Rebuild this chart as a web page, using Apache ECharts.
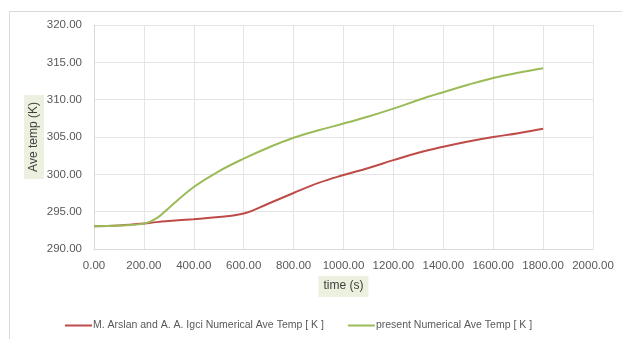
<!DOCTYPE html>
<html>
<head>
<meta charset="utf-8">
<style>
  html, body { margin: 0; padding: 0; background: #fff; }
  #chart { width: 622px; height: 339px; }
</style>
<script src="https://cdn.jsdelivr.net/npm/echarts@6/dist/echarts.min.js"></script>
</head>
<body>
<div id="chart"></div>
<script>
// time (s)
var times = [0, 100, 200, 250, 300, 400, 500, 600, 700, 800, 900, 1000, 1100, 1200, 1300, 1400, 1500, 1600, 1700, 1800]
// M. Arslan and A. A. Igci
var arslanTemp = [293.05, 293.15, 293.4, 293.6, 293.75, 294.0, 294.3, 294.75, 296.1, 297.5, 298.85, 299.9, 300.85, 301.9, 302.9, 303.7, 304.4, 305.0, 305.5, 306.1]
// present numerical
var presentTemp = [293.05, 293.15, 293.4, 294.1, 295.5, 298.3, 300.4, 302.1, 303.6, 304.9, 305.9, 306.8, 307.75, 308.8, 309.95, 311.0, 312.0, 312.9, 313.6, 314.2]
var seriesNames = ['M. Arslan and A. A. Igci Numerical Ave Temp [ K ]', 'present Numerical Ave Temp [ K ]']

function pairs(vals) {
  return times.map(function (t, i) { return [t, vals[i]] })
}

var font = 'Liberation Sans'
var chart = echarts.init(document.getElementById('chart'))
chart.setOption({
  backgroundColor: '#fff',
  animation: false,
  color: ['#be4b48', '#9bbb59'],
  graphic: [{
    type: 'rect',
    left: 7,
    top: 9,
    shape: { width: 700, height: 400 },
    style: { fill: 'none', stroke: '#d9d9d9', lineWidth: 1 },
    silent: true
  }],
  grid: {
    left: 94,
    right: 29,
    top: 25,
    bottom: 90
  },
  legend: {
    left: 60,
    top: 315,
    icon: 'rect',
    itemWidth: 27,
    itemHeight: 2,
    itemGap: 24,
    textStyle: { color: '#595959', fontSize: 10.5, fontFamily: font, padding: [0, 0, 0, -4] },
    data: seriesNames
  },
  xAxis: {
    type: 'value',
    min: 0,
    max: 2000,
    interval: 200,
    name: 'time (s)',
    nameLocation: 'middle',
    nameGap: 27,
    nameMoveOverlap: false,
    nameTextStyle: {
      color: '#404040',
      fontSize: 12,
      fontFamily: font,
      backgroundColor: '#ebf1de',
      padding: [4, 5, 5, 5]
    },
    axisLine: { lineStyle: { color: '#d9d9d9' } },
    axisTick: { show: false },
    axisLabel: {
      color: '#595959',
      fontSize: 11.5,
      fontFamily: font,
      margin: 11,
      formatter: function (v) { return v.toFixed(2) }
    },
    splitLine: { lineStyle: { color: '#e4e4e4' } }
  },
  yAxis: {
    type: 'value',
    min: 290,
    max: 320,
    interval: 5,
    name: 'Ave temp (K)',
    nameLocation: 'middle',
    nameGap: 50,
    nameMoveOverlap: false,
    nameTextStyle: {
      color: '#404040',
      fontSize: 12,
      fontFamily: font,
      backgroundColor: '#ebf1de',
      padding: [4, 7, 4, 7]
    },
    axisLine: { show: true, lineStyle: { color: '#d9d9d9' } },
    axisTick: { show: false },
    axisLabel: {
      color: '#595959',
      fontSize: 11.5,
      fontFamily: font,
      margin: 12,
      formatter: function (v) { return v.toFixed(2) }
    },
    splitLine: { lineStyle: { color: '#e4e4e4' } }
  },
  series: [{
    name: seriesNames[0],
    type: 'line',
    smooth: 0.4,
    symbol: 'none',
    lineStyle: { width: 2 },
    data: pairs(arslanTemp)
  }, {
    name: seriesNames[1],
    type: 'line',
    smooth: 0.4,
    symbol: 'none',
    lineStyle: { width: 2 },
    data: pairs(presentTemp)
  }]
})
window.onresize = function () {
  chart.resize()
}
</script>
</body>
</html>
